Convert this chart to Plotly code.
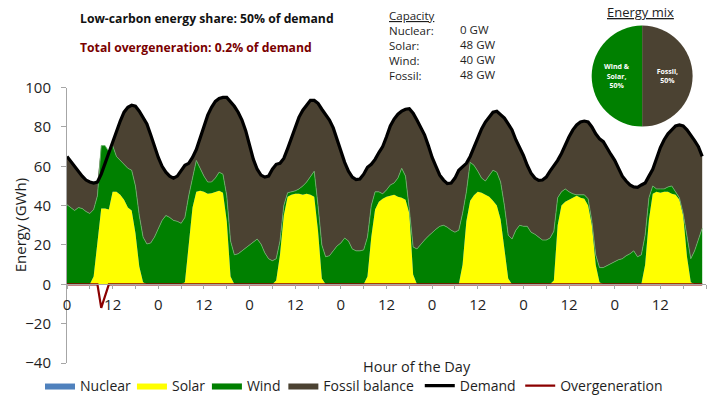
import plotly.graph_objects as go

# ---------------- data ----------------
hours = list(range(168))

demand = [
    65, 62.5, 60, 57, 55, 53, 52, 51.5, 52, 56, 61.5, 67.5, 73, 78, 83, 87.5, 90, 91, 90.5, 88, 85, 81.5, 76, 70,
    64.5, 60, 57, 55, 54, 55, 58, 60.5, 61.5, 64.5, 68.5, 74.5, 80.5, 86, 90, 93, 94.5, 95, 95, 93, 90.5, 87.5, 83.5, 78,
    70, 63.5, 58.5, 55.5, 54.5, 55, 58.5, 61, 61.5, 64, 69, 74, 79.5, 85, 88.5, 91, 93.5, 93.5, 92, 89, 86, 83.5, 79.5, 73.5,
    67.5, 62, 57.5, 54.5, 53.2, 53.5, 56, 59.5, 61, 63.5, 67, 70, 75, 80.5, 84, 86.5, 88, 89, 89.3, 87, 83.5, 80, 76, 70.5,
    64.5, 60, 55.5, 53, 51.2, 51.5, 54, 58, 59.5, 61.5, 65, 70, 74.5, 79, 82.5, 85, 87.5, 88, 86.5, 84.5, 81.5, 78.5, 73.5, 69.5,
    65.5, 60.5, 56.5, 54, 52.8, 53, 54.5, 57.5, 60, 63, 66.5, 71, 75, 78.5, 81, 82.5, 83, 82.5, 80, 76.5, 74, 72.5, 69, 66,
    63, 58.5, 55, 52.5, 50.5, 49.5, 49.3, 50.5, 51.5, 55, 58.5, 64, 69.5, 73.5, 76.5, 78.5, 80.5, 81, 80.5, 78.5, 76, 73, 70, 65,
]

solar = [
    0, 0, 0, 0, 0, 0, 0, 4, 20, 38.5, 38.5, 38, 47, 47, 45.5, 43, 39, 37.5, 26, 9, 1, 0, 0, 0,
    0, 0, 0, 0, 0, 0, 0, 1, 20, 39, 47, 47.5, 47, 46, 46.3, 47, 47.5, 46.5, 32, 4, 0, 0, 0, 0,
    0, 0, 0, 0, 0, 0, 0, 2, 15, 35, 44.5, 45.5, 46, 46, 45.5, 46, 45.5, 44.5, 27, 3, 0, 0, 0, 0,
    0, 0, 0, 0, 0, 0, 0, 4, 24, 38, 42, 43.5, 44.5, 45, 45.5, 44.5, 44, 43, 36, 5, 0, 0, 0, 0,
    0, 0, 0, 0, 0, 0, 0, 0, 10, 32, 42.5, 45.3, 47, 46.5, 45.5, 44.5, 42.5, 40, 33, 18, 3, 0, 0, 0,
    0, 0, 0, 0, 0, 0, 0, 0, 2, 30, 40, 42, 43, 44, 45, 44, 43.5, 40, 30, 10, 1, 0, 0, 0,
    0, 0, 0, 0, 0, 0, 0, 0, 10, 33, 46, 47, 46.5, 47, 47, 46, 45.5, 43, 35, 14, 1, 0, 0, 0,
]

# top edge of the green area (solar + wind)
solar_plus_wind = [
    40.5, 39, 37.5, 39, 38.5, 37, 36, 38, 45, 70.5, 70.5, 67.5, 70.5, 65, 63, 61, 59, 58, 50, 35, 24, 20.5, 21, 24,
    28, 32.5, 35, 34, 32.5, 32, 31, 34, 45, 54, 63, 59, 55, 52, 52, 54, 57, 56, 45, 22, 15, 15.5, 17, 18.5,
    20, 21.5, 23, 20.5, 16, 13, 12, 13, 22, 40, 46.5, 47, 47.5, 48.5, 50, 52, 55, 57.5, 40, 20, 14, 14.5, 17, 19.5,
    21, 23.5, 22, 18, 17, 17, 17.5, 24, 40, 47, 47, 46, 48, 50.5, 51.5, 54, 59, 55, 38, 19, 18, 20.5, 22.5, 24.5,
    26.5, 28, 29.5, 30, 29, 27.5, 26.5, 27.5, 36, 47, 62, 60.5, 57.5, 54, 52.5, 55, 58, 57, 52, 40, 25, 23, 27.5, 30,
    29.5, 29.5, 26.5, 25.5, 24, 22.5, 22.5, 23.5, 27, 44, 47, 48.5, 47, 46, 45.5, 45.5, 45.5, 43.5, 32, 15, 8.5, 8.5, 9.5, 10.5,
    11.5, 12.5, 13, 14.5, 15.5, 17, 14, 15, 25, 44, 50, 48.5, 48.5, 48.5, 49.5, 50, 47, 44, 36, 25, 13, 17, 23, 28.5,
]

nuclear = [0] * 168
overgeneration = [0, 0, 0, 0, 0, 0, 0, 0, 0, -12, -6] + [0] * 157

wind = [t - s for t, s in zip(solar_plus_wind, solar)]
fossil_balance = [max(d - t, 0) for d, t in zip(demand, solar_plus_wind)]

hour_ticks = list(range(0, 169, 6))
hour_tick_labels = [str(h % 24) if (h % 12 == 0 and h < 168) else "" for h in hour_ticks]
energy_ticks = [-40, -20, 0, 20, 40, 60, 80, 100]

capacity_names = ["Nuclear:", "Solar:", "Wind:", "Fossil:"]
capacity_values = ["0 GW", "48 GW", "40 GW", "48 GW"]

mix_labels = ["Fossil", "Wind & Solar"]
mix_text = ["Fossil,", "Wind &<br>Solar,"]
mix_values = [50, 50]

# ---------------- layout geometry (pixels) ----------------
FW, FH = 720, 405
ML, MR, MT, MB = 67, 13.6, 5, 42.4
PW = FW - ML - MR
PH = FH - MT - MB


def fx(px):
    return (px - ML) / PW


def fy(py):
    return (FH - MB - py) / PH


Y_TOP = fy(87.5)
Y_MIN, Y_MAX = -40, 100
X_AXIS_POS = Y_TOP * (0 - Y_MIN) / (Y_MAX - Y_MIN)

FONT = "Open Sans"
TXT = "#1e1e1e"
AXC = "#a6a6a6"

fig = go.Figure()

series = [
    ("Nuclear", nuclear, "#4f81bd", "legend"),
    ("Solar", solar, "#ffff00", "legend2"),
    ("Wind", wind, "#008000", "legend3"),
    ("Fossil balance", fossil_balance, "#4b4232", "legend4"),
]
for name, vals, col, lg in series:
    lw = 0.8 if name == "Wind" else 0
    lc = "#6db56d" if name == "Wind" else col
    fig.add_trace(go.Scatter(
        x=hours, y=vals, name=name, mode="lines", stackgroup="gen",
        fillcolor=col, line=dict(color=lc, width=lw), legend=lg,
        hoverinfo="skip",
    ))

fig.add_trace(go.Scatter(
    x=hours, y=demand, name="Demand", mode="lines",
    line=dict(color="#000000", width=3.2), legend="legend5", hoverinfo="skip",
))
fig.add_trace(go.Scatter(
    x=hours, y=overgeneration, name="Overgeneration", mode="lines",
    line=dict(color="#8b0000", width=2.2), legend="legend6", hoverinfo="skip",
))

fig.add_trace(go.Pie(
    labels=mix_labels, values=mix_values, text=mix_text,
    texttemplate="<b>%{text}<br>%{percent:.0%}</b>",
    textposition="inside", insidetextorientation="horizontal",
    textfont=dict(family=FONT, size=7, color="white"),
    marker=dict(colors=["#4b4232", "#008000"], line=dict(width=0)),
    sort=False, direction="clockwise", rotation=0,
    domain=dict(x=[fx(592), fx(693)], y=[fy(127), fy(25)]),
    showlegend=False, hoverinfo="skip",
))

# legends placed item by item
legend_text_starts = [82, 174, 249, 325.5, 462, 562.5]
legend_keys = ["legend", "legend2", "legend3", "legend4", "legend5", "legend6"]
legend_layout = {}
for key, tx in zip(legend_keys, legend_text_starts):
    legend_layout[key] = dict(
        orientation="h", x=fx(tx - 42), xanchor="left",
        y=fy(385.5), yanchor="middle",
        font=dict(family=FONT, size=14, color=TXT),
        bgcolor="rgba(0,0,0,0)", borderwidth=0, itemwidth=30,
    )

annotations = [
    dict(text="<b>Low-carbon energy share: 50% of demand</b>", x=fx(79), y=fy(18),
         xanchor="left", yanchor="middle", font=dict(size=12.2, color="#111111")),
    dict(text="<b>Total overgeneration: 0.2% of demand</b>", x=fx(79), y=fy(47),
         xanchor="left", yanchor="middle", font=dict(size=12.2, color="#7a0000")),
    # capacity block: names (with underlined heading) and values
    dict(text="<br>".join(["<u>Capacity</u>"] + capacity_names), x=fx(388), y=fy(45),
         xanchor="left", yanchor="middle", align="left", font=dict(size=11.5, color=TXT)),
    dict(text="<br>".join(capacity_values), x=fx(459), y=fy(52.3),
         xanchor="left", yanchor="middle", align="left", font=dict(size=11.5, color=TXT)),
    dict(text="<u>Energy mix</u>", x=fx(641), y=fy(11.5),
         xanchor="center", yanchor="middle", font=dict(size=13, color=TXT)),
    dict(text="Energy (GWh)", textangle=-90, x=fx(20), y=fy(225),
         xanchor="center", yanchor="middle", font=dict(size=15, color=TXT)),
    dict(text="Hour of the Day", x=fx(417), y=fy(366),
         xanchor="center", yanchor="middle", font=dict(size=14.5, color=TXT)),
]
for a in annotations:
    a.update(xref="paper", yref="paper", showarrow=False, borderpad=0)
    a["font"]["family"] = FONT

fig.update_layout(
    width=FW, height=FH,
    margin=dict(l=ML, r=MR, t=MT, b=MB, autoexpand=False),
    paper_bgcolor="white", plot_bgcolor="rgba(0,0,0,0)",
    font=dict(family=FONT, color=TXT),
    annotations=annotations,
    hovermode=False,
    **legend_layout,
)

fig.update_xaxes(
    range=[0, 168], anchor="free", position=X_AXIS_POS,
    tickmode="array", tickvals=hour_ticks, ticktext=hour_tick_labels,
    ticks="outside", ticklen=4, tickcolor=AXC, tickwidth=1,
    showline=True, linecolor=AXC, linewidth=1,
    showgrid=False, zeroline=False,
    tickfont=dict(family=FONT, size=15, color=TXT), ticklabelstandoff=3,
)
fig.update_yaxes(
    range=[Y_MIN, Y_MAX], domain=[0, Y_TOP],
    tickmode="array", tickvals=energy_ticks,
    ticks="outside", ticklen=5, tickcolor=AXC, tickwidth=1,
    showline=True, linecolor=AXC, linewidth=1,
    showgrid=False, zeroline=False,
    tickfont=dict(family=FONT, size=15, color=TXT), ticklabelstandoff=7,
)

fig.write_html("out.html")
